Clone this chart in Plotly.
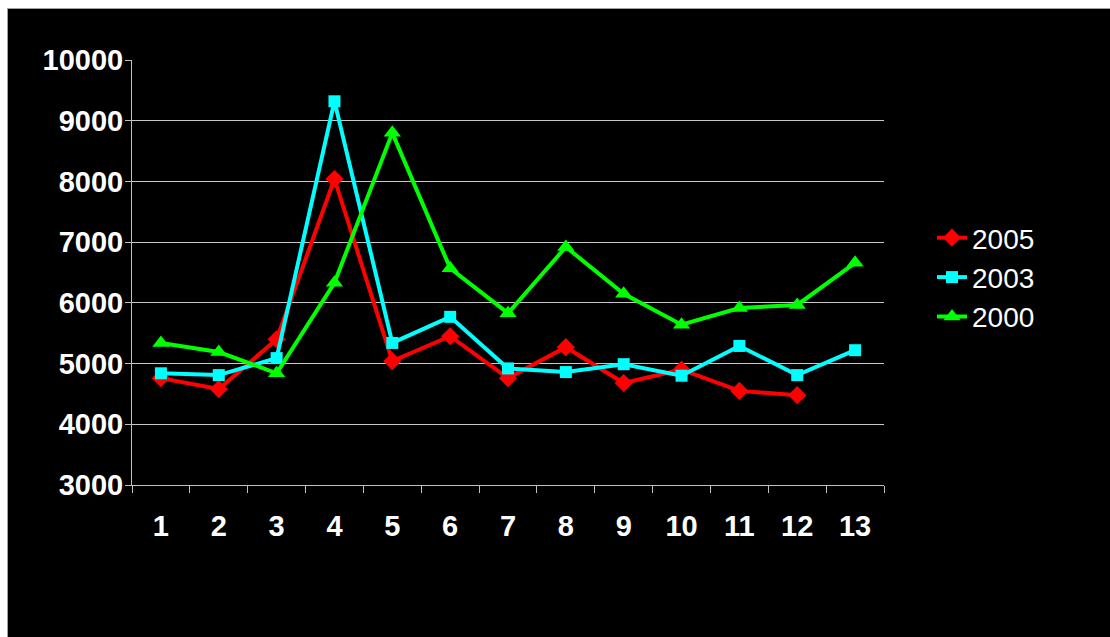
import plotly.graph_objects as go

categories = [str(i) for i in range(1, 14)]
y2005 = [4760, 4580, 5400, 8040, 5040, 5450, 4760, 5270, 4680, 4900, 4550, 4480, None]
y2003 = [4840, 4810, 5090, 9320, 5340, 5770, 4920, 4860, 4990, 4800, 5290, 4810, 5220]
y2000 = [5340, 5190, 4840, 6330, 8800, 6570, 5830, 6920, 6150, 5640, 5915, 5965, 6660]
series_names = ["2005", "2003", "2000"]

W, H = 1110, 637
L, R, T, B = 132, 884, 60, 485

fig = go.Figure()
fig.add_trace(go.Scatter(x=categories, y=y2005, name=series_names[0], mode="lines+markers",
                         line=dict(color="#ff0000", width=4),
                         marker=dict(symbol="diamond", size=14, color="#ff0000")))
fig.add_trace(go.Scatter(x=categories, y=y2003, name=series_names[1], mode="lines+markers",
                         line=dict(color="#00ffff", width=4),
                         marker=dict(symbol="square", size=12, color="#00ffff")))
fig.add_trace(go.Scatter(x=categories, y=y2000, name=series_names[2], mode="lines+markers",
                         line=dict(color="#00ff00", width=4),
                         marker=dict(symbol="triangle-up", size=15, color="#00ff00")))

pw, ph = R - L, B - T
def px2x(px):
    return (px - L) / pw
def py2y(py):
    return (B - py) / ph

fig.add_shape(type="rect", xref="paper", yref="paper", layer="below",
              x0=px2x(7.5), x1=px2x(1120), y0=py2y(650), y1=py2y(8.5),
              fillcolor="#000000", line=dict(color="#a0a0a0", width=1))

fig.update_layout(
    width=W, height=H,
    margin=dict(l=L, r=W - R, t=T, b=H - B, pad=0),
    paper_bgcolor="#ffffff",
    plot_bgcolor="#000000",
    font=dict(family="Liberation Sans, Arial, sans-serif", color="#ffffff"),
    showlegend=True,
    legend=dict(x=px2x(932), y=py2y(213), xanchor="left", yanchor="top",
                bgcolor="rgba(0,0,0,0)", font=dict(size=28, color="#ffffff"),
                tracegroupgap=0),
    xaxis=dict(type="category", range=[-0.5, 12.5], tickson="boundaries",
               showgrid=False, showline=True, linecolor="#c0c0c0", linewidth=1,
               ticks="outside", ticklen=7, tickcolor="#c0c0c0", tickwidth=1,
               tickfont=dict(size=29, color="#ffffff", weight="bold"),
               ticklabelstandoff=15, zeroline=False),
    yaxis=dict(range=[3000, 10000], dtick=1000, tick0=3000, tickformat="d",
               showgrid=True, gridcolor="#c8c8c8", gridwidth=1,
               showline=True, linecolor="#c0c0c0", linewidth=1,
               ticks="outside", ticklen=6, tickcolor="#c0c0c0", tickwidth=1,
               tickfont=dict(size=29, color="#ffffff", weight="bold"),
               ticklabelstandoff=-4, zeroline=False),
)

fig.write_html("out.html")
